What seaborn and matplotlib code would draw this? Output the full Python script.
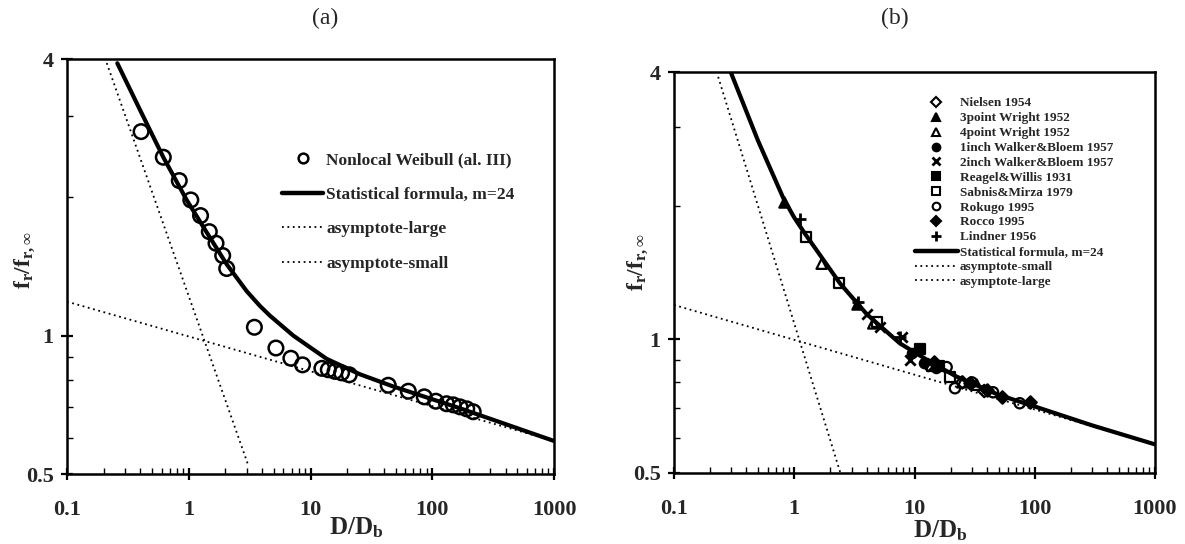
import numpy as np
import pandas as pd
import matplotlib
matplotlib.use("Agg")
import matplotlib.pyplot as plt
import seaborn as sns
from matplotlib.ticker import FixedLocator, FixedFormatter, NullFormatter
from matplotlib.lines import Line2D

# ---------------- data ----------------
# Panel (a)
a_weibull_x = [0.406, 0.618, 0.836, 1.04, 1.25, 1.475, 1.675, 1.9, 2.05, 3.46, 5.2, 6.9, 8.6,
               12.4, 14.0, 15.9, 18.0, 20.8, 43.5, 63.6, 86, 107, 131, 149, 169, 192, 217]
a_weibull_y = [2.78, 2.445, 2.175, 1.974, 1.825, 1.684, 1.589, 1.494, 1.40, 1.043, 0.94, 0.893, 0.864,
               0.849, 0.843, 0.836, 0.83, 0.822, 0.78, 0.757, 0.736, 0.72, 0.711, 0.707, 0.70, 0.693, 0.683]
a_curve_x = [0.259, 0.398, 0.618, 0.961, 1.40, 2.05, 2.99, 3.85, 4.65, 7.23, 13.6, 25.5, 47.9, 169, 1000]
a_curve_y = [3.916, 3.099, 2.445, 1.974, 1.68, 1.43, 1.25, 1.16, 1.105, 1.0, 0.89, 0.824, 0.775,
             0.695, 0.59]
a_large_x = [0.1, 1000]
a_large_y = [1.186, 0.59]
a_small_x = [0.212, 3.1]
a_small_y = [3.92, 0.52]

# Panel (b)
b_series = ["Nielsen 1954", "3point Wright 1952", "4point Wright 1952", "1inch Walker&Bloem 1957",
            "2inch Walker&Bloem 1957", "Reagel&Willis 1931", "Sabnis&Mirza 1979", "Rokugo 1995",
            "Rocco 1995", "Lindner 1956"]
nielsen_x = [13.0, 25.0, 38.0]
nielsen_y = [0.875, 0.80, 0.765]
wright3_x = [0.82, 3.3]
wright3_y = [2.04, 1.20]
wright4_x = [1.69, 4.54, 25.0, 33.0]
wright4_y = [1.48, 1.086, 0.80, 0.79]
walker1_x = [9.5, 12.0, 15.0]
walker1_y = [0.93, 0.885, 0.86]
walker2_x = [4.0, 5.2, 7.8, 9.2]
walker2_y = [1.14, 1.068, 1.014, 0.90]
reagel_x = [11.1, 16.0]
reagel_y = [0.95, 0.87]
sabnis_x = [1.245, 2.37, 4.85, 14.0, 19.7]
sabnis_y = [1.70, 1.337, 1.096, 0.87, 0.824]
rokugo_x = [18.5, 21.7, 30.0, 45.0, 75.0]
rokugo_y = [0.866, 0.776, 0.80, 0.76, 0.718]
rocco_x = [14.4, 29.0, 40.0, 53.0, 91.0]
rocco_y = [0.89, 0.796, 0.77, 0.741, 0.722]
lindner_x = [1.12, 3.41, 7.6]
lindner_y = [1.87, 1.215, 1.01]

b_curve_x = [0.296, 0.5, 0.811, 1.0, 1.245, 2.4, 4.0, 7.57, 14.0, 22.4, 50.0, 110.0, 300.0, 1000.0]
b_curve_y = [4.0, 2.8, 2.08, 1.88, 1.72, 1.337, 1.14, 0.979, 0.885, 0.824, 0.75, 0.70, 0.64, 0.58]
b_small_x = [0.233, 2.42]
b_small_y = [3.90, 0.5]
b_large_x = [0.1, 1000]
b_large_y = [1.195, 0.58]

x_ticks = [0.1, 1, 10, 100, 1000]
x_ticklabels = ["0.1", "1", "10", "100", "1000"]
y_ticks = [0.5, 1, 4]
y_ticklabels = ["0.5", "1", "4"]
y_minor = [0.6, 0.7, 0.8, 0.9, 2, 3]

# ---------------- style ----------------
sns.set_theme(style="white")
plt.rcParams["font.family"] = ["Liberation Serif", "DejaVu Serif"]
plt.rcParams["font.weight"] = "bold"
plt.rcParams["mathtext.fontset"] = "custom"
plt.rcParams["mathtext.rm"] = "Liberation Serif:bold"
plt.rcParams["mathtext.it"] = "Liberation Serif:bold"
plt.rcParams["mathtext.bf"] = "Liberation Serif:bold"

fig = plt.figure(figsize=(11.85, 5.44), dpi=100)
axA = fig.add_axes([67 / 1185, 1 - 474 / 544, 487 / 1185, 415 / 544])
axB = fig.add_axes([674 / 1185, 1 - 473 / 544, 481 / 1185, 401 / 544])

dot = (0, (1, 2))
curve_lw = 3.0
dot_lw = 1.3


def setup(ax):
    ax.set_xscale("log")
    ax.set_yscale("log")
    ax.set_xlim(0.1, 1000)
    ax.set_ylim(0.5, 4)
    ax.xaxis.set_major_locator(FixedLocator(x_ticks))
    ax.xaxis.set_major_formatter(FixedFormatter(x_ticklabels))
    ax.xaxis.set_minor_locator(FixedLocator(
        [m * 10.0 ** e for e in range(-1, 3) for m in range(2, 10)]))
    ax.xaxis.set_minor_formatter(NullFormatter())
    ax.yaxis.set_major_locator(FixedLocator(y_ticks))
    ax.yaxis.set_major_formatter(FixedFormatter(y_ticklabels))
    ax.yaxis.set_minor_locator(FixedLocator(y_minor))
    ax.yaxis.set_minor_formatter(NullFormatter())
    ax.tick_params(which="major", direction="inout", length=9, width=1.6,
                   labelsize=16, color="black", bottom=True, left=True)
    ax.tick_params(which="minor", direction="in", length=4, width=1.0,
                   color="black", bottom=True, left=True)
    ax.tick_params(axis="x", which="major", pad=14)
    ax.tick_params(axis="y", which="major", pad=5)
    for lab in ax.get_xticklabels() + ax.get_yticklabels():
        lab.set_fontweight("bold")
    for s in ax.spines.values():
        s.set_color("black")
        s.set_linewidth(1.8)
    ax.set_xlabel("")
    ax.set_ylabel("")


# ---------------- panel (a) ----------------
sns.lineplot(x=a_large_x, y=a_large_y, ax=axA, color="black", lw=dot_lw, linestyle=dot,
             sort=False, estimator=None)
sns.lineplot(x=a_small_x, y=a_small_y, ax=axA, color="black", lw=dot_lw, linestyle=dot,
             sort=False, estimator=None)
sns.lineplot(x=a_curve_x, y=a_curve_y, ax=axA, color="black", lw=curve_lw,
             sort=False, estimator=None)
sns.scatterplot(x=a_weibull_x, y=a_weibull_y, ax=axA, marker="o", s=110,
                facecolor="none", edgecolor="black", linewidth=1.8, zorder=5)
setup(axA)

hA = [Line2D([], [], marker="o", ls="none", mfc="none", mec="black", mew=1.8, ms=7),
      Line2D([], [], color="black", lw=3.2),
      Line2D([], [], color="black", lw=1.3, ls=dot),
      Line2D([], [], color="black", lw=1.3, ls=dot)]
lA = ["Nonlocal Weibull (al. III)", "Statistical formula, m=24", "asymptote-large", "asymptote-small"]
legA = axA.legend(hA, lA, loc="upper left", bbox_to_anchor=(0.441, 0.775), frameon=False,
                  prop={"family": "Liberation Serif", "weight": "bold", "size": 12.5},
                  handlelength=2.4, handletextpad=0.15, labelspacing=1.05, borderpad=0,
                  borderaxespad=0)

# ---------------- panel (b) ----------------
sns.lineplot(x=b_large_x, y=b_large_y, ax=axB, color="black", lw=dot_lw, linestyle=dot,
             sort=False, estimator=None)
sns.lineplot(x=b_small_x, y=b_small_y, ax=axB, color="black", lw=dot_lw, linestyle=dot,
             sort=False, estimator=None)
sns.lineplot(x=b_curve_x, y=b_curve_y, ax=axB, color="black", lw=curve_lw,
             sort=False, estimator=None)

b_xs = [nielsen_x, wright3_x, wright4_x, walker1_x, walker2_x, reagel_x, sabnis_x,
        rokugo_x, rocco_x, lindner_x]
b_ys = [nielsen_y, wright3_y, wright4_y, walker1_y, walker2_y, reagel_y, sabnis_y,
        rokugo_y, rocco_y, lindner_y]
b_style = [("D", False, 40), ("^", True, 55), ("^", False, 55), ("o", True, 45),
           ("x", True, 55), ("s", True, 45), ("s", False, 55), ("o", False, 55),
           ("D", True, 40), ("+", True, 70)]
df_b = pd.concat([pd.DataFrame({"x": xs, "y": ys, "series": name})
                  for xs, ys, name in zip(b_xs, b_ys, b_series)], ignore_index=True)
for name, (mk, filled, sz) in zip(b_series, b_style):
    sub = df_b[df_b["series"] == name]
    if mk in ("x", "+"):
        sns.scatterplot(data=sub, x="x", y="y", ax=axB, marker=mk, s=sz, color="black",
                        linewidth=2.0, zorder=5, legend=False)
    else:
        sns.scatterplot(data=sub, x="x", y="y", ax=axB, marker=mk, s=sz,
                        facecolor="black" if filled else "none", edgecolor="black",
                        linewidth=1.6, zorder=5, legend=False)
setup(axB)

hB = []
for mk, filled, sz in b_style:
    ms = 5.5 if mk != "+" else 7
    if mk in ("x", "+"):
        hB.append(Line2D([], [], marker=mk, ls="none", color="black", mew=2.0, ms=ms))
    else:
        hB.append(Line2D([], [], marker=mk, ls="none", mfc="black" if filled else "none",
                         mec="black", mew=1.5, ms=ms if mk != "D" else 4.8))
hB += [Line2D([], [], color="black", lw=3.2),
       Line2D([], [], color="black", lw=1.3, ls=dot),
       Line2D([], [], color="black", lw=1.3, ls=dot)]
lB = b_series + ["Statistical formula, m=24", "asymptote-small", "asymptote-large"]
legB = axB.legend(hB, lB, loc="upper left", bbox_to_anchor=(0.501, 0.937), frameon=False,
                  prop={"family": "Liberation Serif", "weight": "bold", "size": 9.5},
                  handlelength=3.25, handletextpad=0.15, labelspacing=0.2, borderpad=0,
                  borderaxespad=0)

# ---------------- labels ----------------
fig.text(325 / 1185, 1 - 18 / 544, "(a)", ha="center", va="center", fontsize=17,
         fontweight="normal")
fig.text(895 / 1185, 1 - 18 / 544, "(b)", ha="center", va="center", fontsize=17,
         fontweight="normal")
fig.text(25 / 1185, 1 - 260 / 544, r"$\mathrm{f_r/f_{r,\infty}}$", rotation=90,
         ha="center", va="center", fontsize=17)
fig.text(638 / 1185, 1 - 262 / 544, r"$\mathrm{f_r/f_{r,\infty}}$", rotation=90,
         ha="center", va="center", fontsize=17)
fig.text(356 / 1185, 1 - 528 / 544, r"$\mathrm{D/D_b}$", ha="center", va="center", fontsize=18)
fig.text(940 / 1185, 1 - 531 / 544, r"$\mathrm{D/D_b}$", ha="center", va="center", fontsize=18)

fig.savefig("out.png", dpi=100)
